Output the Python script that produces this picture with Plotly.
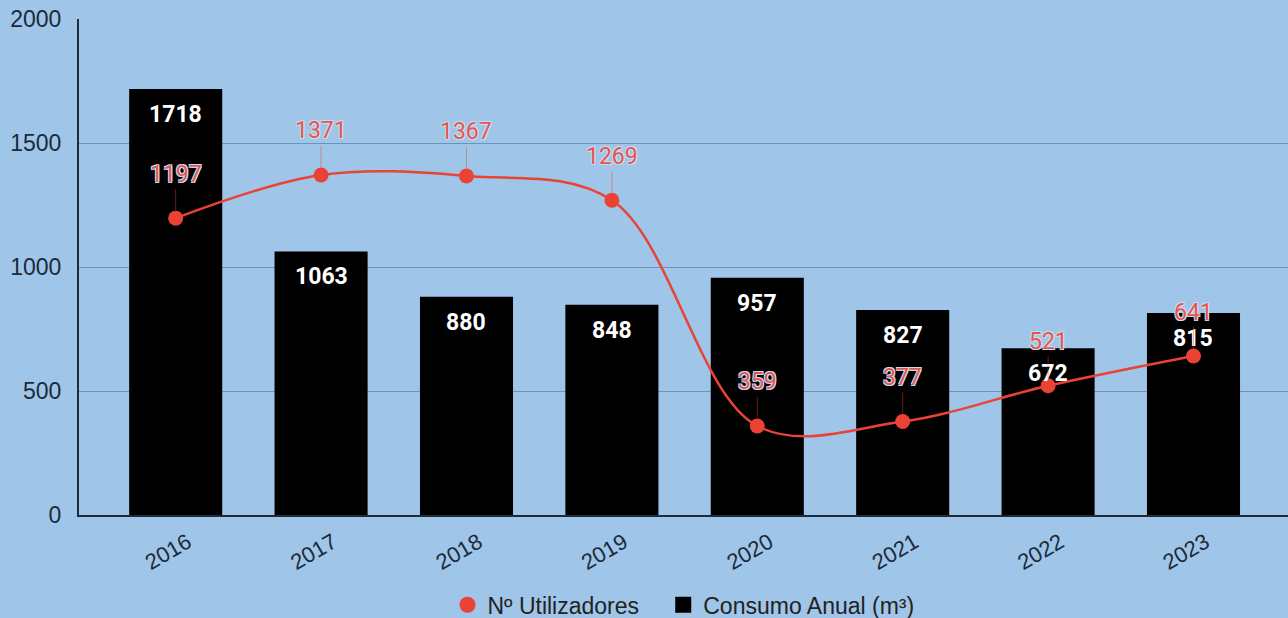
import plotly.graph_objects as go

years = ["2016", "2017", "2018", "2019", "2020", "2021", "2022", "2023"]
consumo = [1718, 1063, 880, 848, 957, 827, 672, 815]
utilizadores = [1197, 1371, 1367, 1269, 359, 377, 521, 641]

BG = "#9fc5e8"
RED = "#ea4335"
INK = "#1c2a3a"
halo = "1px 1px 0 #c6dcf2, -1px -1px 0 #c6dcf2, 1px -1px 0 #c6dcf2, -1px 1px 0 #c6dcf2"

fig = go.Figure()
fig.add_trace(go.Bar(
    x=years, y=consumo, name="Consumo Anual (m³)",
    marker=dict(color="#000000", line=dict(width=0)),
    width=0.64, hoverinfo="x+y", showlegend=False,
))
fig.add_trace(go.Scatter(
    x=years, y=utilizadores, name="Nº Utilizadores", mode="lines+markers",
    line=dict(color=RED, width=2.5, shape="spline", smoothing=1.0),
    marker=dict(color=RED, size=15), showlegend=False,
))
# legend entries
fig.add_trace(go.Scatter(
    x=[None], y=[None], name="Consumo Anual (m³)", mode="markers",
    marker=dict(color="#000000", size=17, symbol="square"),
))
fig.add_trace(go.Scatter(
    x=[None], y=[None], name="Nº Utilizadores\u00a0\u00a0\u00a0", mode="markers",
    marker=dict(color=RED, size=22),
))

# category axis: annotation x given as category index
for i, v in enumerate(consumo):
    fig.add_annotation(
        x=i, y=v, xref="x", yref="y", text="<b>%d</b>" % v, showarrow=False,
        yanchor="top", yshift=-10,
        font=dict(family="Roboto", size=23, color="white"),
    )
for i, v in enumerate(utilizadores):
    fig.add_annotation(
        x=i, y=v, xref="x", yref="y", text=str(v), showarrow=True,
        arrowhead=0, arrowwidth=1, arrowcolor="rgba(234,67,53,0.45)",
        ax=0, ay=-44, standoff=8,
        font=dict(family="Roboto", size=23, color="#e8554e", shadow=halo),
    )

fig.update_layout(
    width=1288, height=618,
    paper_bgcolor=BG, plot_bgcolor=BG,
    margin=dict(l=79, r=0, t=19, b=103, autoexpand=False),
    legend=dict(
        orientation="h", x=0.5, xanchor="center", y=-0.181, yanchor="middle",
        font=dict(family="Liberation Sans, Arial", size=23, color="#222222"),
        traceorder="reversed", bgcolor="rgba(0,0,0,0)",
    ),
    xaxis=dict(
        type="category", range=[-0.665, 7.65], tickangle=-30, automargin=False,
        tickfont=dict(family="Liberation Sans, Arial", size=22, color=INK),
        showline=True, linecolor=INK, linewidth=2,
        showgrid=False, ticks="", ticklabelstandoff=4, ticklabelshift=12,
    ),
    yaxis=dict(
        range=[0, 2000], tickvals=[0, 500, 1000, 1500, 2000], automargin=False,
        tickfont=dict(family="Liberation Sans, Arial", size=23, color=INK),
        showline=True, linecolor=INK, linewidth=2,
        gridcolor="#6f93b8", gridwidth=1, zeroline=False,
        ticks="", ticklabelstandoff=11,
    ),
    showlegend=True,
)

fig.write_html("out.html", config={"displayModeBar": False},
               post_script="document.body.style.margin='0';")
